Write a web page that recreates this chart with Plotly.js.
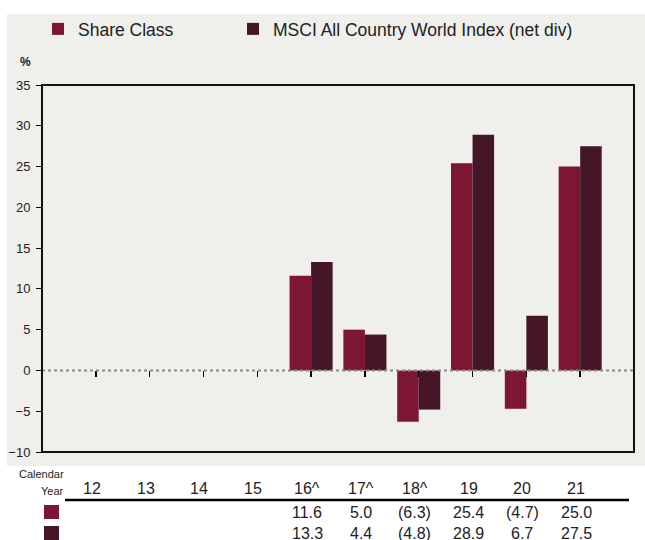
<!DOCTYPE html>
<html><head><meta charset="utf-8">
<script src="https://cdn.plot.ly/plotly-3.0.1.min.js"></script>
<style>html,body{margin:0;padding:0;background:#fff}#chart{width:645px;height:540px}</style>
</head><body><div id="chart"></div>
<script>
const years = ['12','13','14','15','16^','17^','18^','19','20','21'];
const shareClass = [null,null,null,null,11.6,5.0,-6.3,25.4,-4.7,25.0];
const msciIndex = [null,null,null,null,13.3,4.4,-4.8,28.9,6.7,27.5];
const seriesNames = ['Share Class','MSCI All Country World Index (net div)'];
const colors = ['#7d1632','#441628'];

const FONT = '"Liberation Sans", Arial, sans-serif';
const L = 42, T = 85, W = 592, H = 367; // plot area px
const px2x = p => (p - L) / W;
const py2y = p => (T + H - p) / H;

function fmt(v){ if (v === null) return ''; return v < 0 ? '(' + Math.abs(v).toFixed(1) + ')' : v.toFixed(1); }

const traces = [
  {type:'bar', name:seriesNames[0], x:years, y:shareClass, marker:{color:colors[0]}, hoverinfo:'skip', legend:'legend'},
  {type:'bar', name:seriesNames[1], x:years, y:msciIndex, marker:{color:colors[1]}, hoverinfo:'skip', legend:'legend2'}
];

const annotations = [];
const ann = (o) => annotations.push(Object.assign({showarrow:false, xanchor:'center', yanchor:'middle'}, o));
ann({xref:'paper', yref:'paper', x:px2x(25), y:py2y(62), text:'<b>%</b>', font:{family:FONT, size:12, color:'#222'}});
ann({xref:'paper', yref:'paper', x:px2x(66), y:py2y(474), xanchor:'right', text:'Calendar', font:{family:FONT, size:11, color:'#222'}});
ann({xref:'paper', yref:'paper', x:px2x(66), y:py2y(491), xanchor:'right', text:'Year', font:{family:FONT, size:11, color:'#222'}});
years.forEach((yr, i) => {
  ann({xref:'x', yref:'paper', x:i, xshift:-4, y:py2y(488), text:yr, font:{family:FONT, size:16, color:'#222'}});
  ann({xref:'x', yref:'paper', x:i, xshift:-4, y:py2y(512), text:fmt(shareClass[i]), font:{family:FONT, size:16, color:'#222'}});
  ann({xref:'x', yref:'paper', x:i, xshift:-4, y:py2y(533), text:fmt(msciIndex[i]), font:{family:FONT, size:16, color:'#222'}});
});

const shapes = [
  {type:'rect', xref:'paper', yref:'paper', x0:px2x(7), x1:px2x(645), y0:py2y(466), y1:py2y(14), fillcolor:'#efefeb', line:{width:0}, layer:'below'},
  {type:'line', xref:'paper', yref:'y', x0:0, x1:1, y0:0, y1:0, line:{color:'#8a8a8a', width:2, dash:'dot'}},
  {type:'rect', xref:'paper', yref:'paper', x0:0, x1:1, y0:0, y1:1, line:{color:'#111', width:2}},
  {type:'line', xref:'paper', yref:'paper', x0:px2x(65), x1:px2x(629), y0:py2y(500), y1:py2y(500), line:{color:'#000', width:2.5}},
  {type:'rect', xref:'paper', yref:'paper', x0:px2x(44), x1:px2x(59), y0:py2y(519), y1:py2y(505), fillcolor:colors[0], line:{width:0}},
  {type:'rect', xref:'paper', yref:'paper', x0:px2x(44), x1:px2x(59), y0:py2y(540), y1:py2y(526), fillcolor:colors[1], line:{width:0}}
];

const legendBase = {orientation:'h', xanchor:'left', yanchor:'middle', bgcolor:'rgba(0,0,0,0)', font:{family:FONT, size:17.5, color:'#222'}, itemclick:false, itemdoubleclick:false};

const layout = {
  width:645, height:540,
  margin:{l:L, r:645-L-W, t:T, b:540-T-H, pad:0},
  paper_bgcolor:'#ffffff', plot_bgcolor:'rgba(0,0,0,0)',
  font:{family:FONT, color:'#222'},
  barmode:'group', bargap:0.2, bargroupgap:0,
  showlegend:true,
  legend:Object.assign({x:px2x(38), y:py2y(29)}, legendBase),
  legend2:Object.assign({x:px2x(233), y:py2y(29)}, legendBase),
  xaxis:{type:'category', range:[-1,10], anchor:'free', position:10/45, showline:false, showgrid:false, zeroline:false, ticks:'outside', ticklen:6, tickwidth:1.5, tickcolor:'#000', showticklabels:false, fixedrange:true},
  yaxis:{range:[-10,35], dtick:5, showline:false, showgrid:false, zeroline:false, ticks:'outside', ticklen:5, tickwidth:1, tickcolor:'#000', ticklabelstandoff:3, tickfont:{family:FONT, size:13, color:'#222'}, fixedrange:true},
  shapes:shapes, annotations:annotations
};
Plotly.newPlot('chart', traces, layout, {staticPlot:true, displayModeBar:false});
</script></body></html>
